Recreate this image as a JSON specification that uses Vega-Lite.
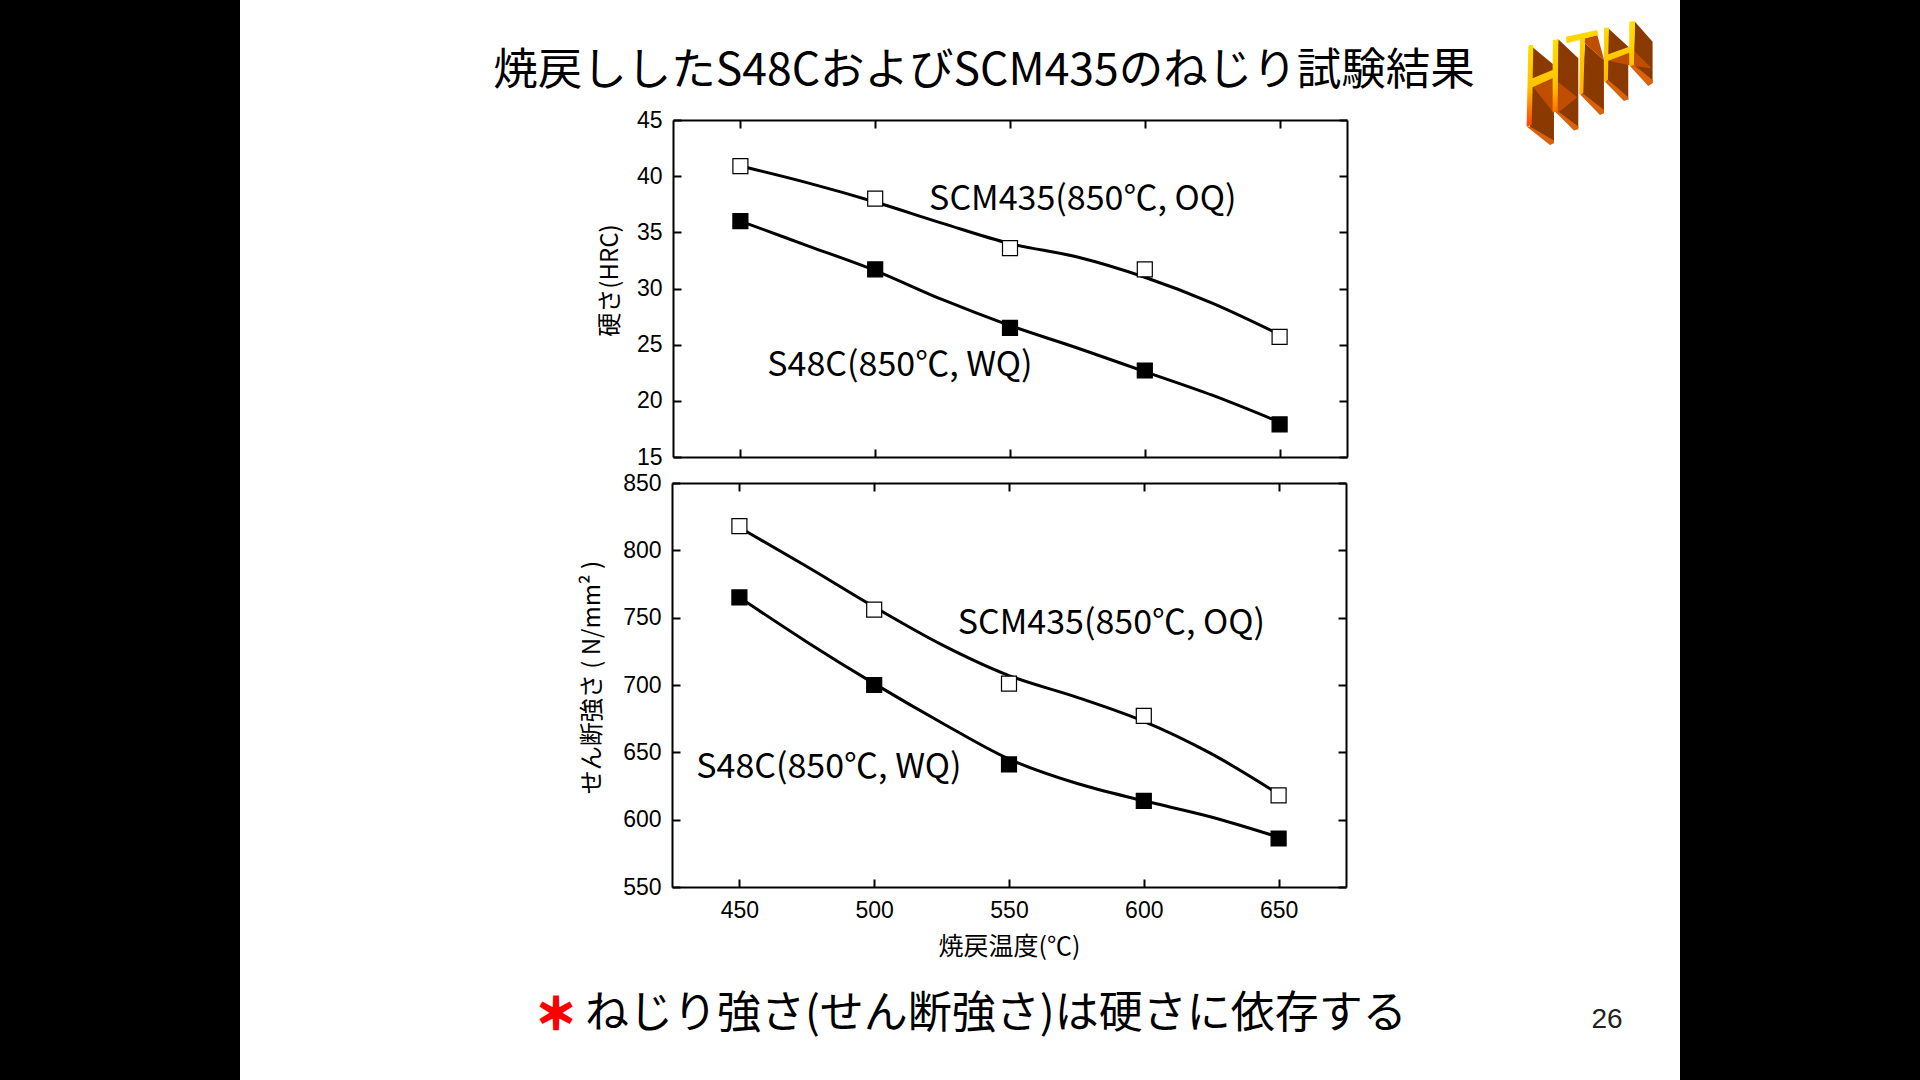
{
  "$schema": "https://vega.github.io/schema/vega-lite/v6.json",
  "width": 1440,
  "height": 1080,
  "autosize": {"type": "none"},
  "padding": {"left": 240, "right": 240, "top": 0, "bottom": 0},
  "background": "black",
  "view": {"fill": "white", "stroke": null},
  "config": {
    "font": "Noto Sans CJK JP",
    "axis": {
      "grid": false,
      "domainColor": "black", "domainWidth": 2,
      "tickColor": "black", "tickWidth": 2, "tickSize": -8,
      "labelColor": "black", "labelFont": "Liberation Sans", "labelFontSize": 23, "labelPadding": 20,
      "titleColor": "black", "titleFont": "Noto Sans CJK JP", "titleFontSize": 24, "titleFontWeight": "normal"
    }
  },
  "datasets": {
    "hardness_curve": [
      {"temp": 450, "hrc": 40.9, "steel": "SCM435"}, {"temp": 475, "hrc": 39.4, "steel": "SCM435"},
      {"temp": 500, "hrc": 37.7, "steel": "SCM435"}, {"temp": 525, "hrc": 35.8, "steel": "SCM435"},
      {"temp": 550, "hrc": 34.0, "steel": "SCM435"}, {"temp": 575, "hrc": 32.8, "steel": "SCM435"},
      {"temp": 600, "hrc": 31.0, "steel": "SCM435"}, {"temp": 625, "hrc": 28.7, "steel": "SCM435"},
      {"temp": 650, "hrc": 25.9, "steel": "SCM435"},
      {"temp": 450, "hrc": 36.0, "steel": "S48C"}, {"temp": 475, "hrc": 33.8, "steel": "S48C"},
      {"temp": 500, "hrc": 31.6, "steel": "S48C"}, {"temp": 525, "hrc": 29.0, "steel": "S48C"},
      {"temp": 550, "hrc": 26.7, "steel": "S48C"}, {"temp": 575, "hrc": 24.7, "steel": "S48C"},
      {"temp": 600, "hrc": 22.6, "steel": "S48C"}, {"temp": 625, "hrc": 20.5, "steel": "S48C"},
      {"temp": 650, "hrc": 18.1, "steel": "S48C"}
    ],
    "hardness_points": [
      {"temp": 450, "hrc": 40.9, "steel": "SCM435"}, {"temp": 500, "hrc": 38.0, "steel": "SCM435"},
      {"temp": 550, "hrc": 33.6, "steel": "SCM435"}, {"temp": 600, "hrc": 31.7, "steel": "SCM435"},
      {"temp": 650, "hrc": 25.7, "steel": "SCM435"},
      {"temp": 450, "hrc": 36.0, "steel": "S48C"}, {"temp": 500, "hrc": 31.7, "steel": "S48C"},
      {"temp": 550, "hrc": 26.5, "steel": "S48C"}, {"temp": 600, "hrc": 22.7, "steel": "S48C"},
      {"temp": 650, "hrc": 17.9, "steel": "S48C"}
    ],
    "shear_curve": [
      {"temp": 450, "shear": 817, "steel": "SCM435"}, {"temp": 475, "shear": 788, "steel": "SCM435"},
      {"temp": 500, "shear": 758, "steel": "SCM435"}, {"temp": 525, "shear": 730, "steel": "SCM435"},
      {"temp": 550, "shear": 707, "steel": "SCM435"}, {"temp": 575, "shear": 691, "steel": "SCM435"},
      {"temp": 600, "shear": 673, "steel": "SCM435"}, {"temp": 625, "shear": 649, "steel": "SCM435"},
      {"temp": 650, "shear": 619, "steel": "SCM435"},
      {"temp": 450, "shear": 765, "steel": "S48C"}, {"temp": 475, "shear": 732, "steel": "S48C"},
      {"temp": 500, "shear": 701, "steel": "S48C"}, {"temp": 525, "shear": 672, "steel": "S48C"},
      {"temp": 550, "shear": 645, "steel": "S48C"}, {"temp": 575, "shear": 627, "steel": "S48C"},
      {"temp": 600, "shear": 614, "steel": "S48C"}, {"temp": 625, "shear": 602, "steel": "S48C"},
      {"temp": 650, "shear": 587, "steel": "S48C"}
    ],
    "shear_points": [
      {"temp": 450, "shear": 818, "steel": "SCM435"}, {"temp": 500, "shear": 756, "steel": "SCM435"},
      {"temp": 550, "shear": 701, "steel": "SCM435"}, {"temp": 600, "shear": 677, "steel": "SCM435"},
      {"temp": 650, "shear": 618, "steel": "SCM435"},
      {"temp": 450, "shear": 765, "steel": "S48C"}, {"temp": 500, "shear": 700, "steel": "S48C"},
      {"temp": 550, "shear": 641, "steel": "S48C"}, {"temp": 600, "shear": 614, "steel": "S48C"},
      {"temp": 650, "shear": 586, "steel": "S48C"}
    ],
    "hardness_labels": [
      {"temp": 520, "hrc": 37.9, "label": "SCM435(850℃,   OQ)"},
      {"temp": 460, "hrc": 23.1, "label": "S48C(850℃,   WQ)"}
    ],
    "shear_labels": [
      {"temp": 531, "shear": 745, "label": "SCM435(850℃,   OQ)"},
      {"temp": 434, "shear": 638.5, "label": "S48C(850℃,   WQ)"}
    ]
  },
  "layer": [
    {
      "data": {"name": "hardness_curve"},
      "mark": {"type": "line", "color": "black", "strokeWidth": 3, "interpolate": "monotone"},
      "encoding": {
        "x": {"field": "temp", "type": "quantitative", "scale": {"domain": [425, 675], "range": [433, 1107]},
          "axis": {"orient": "bottom", "offset": -623, "values": [450, 500, 550, 600, 650], "labels": false, "title": null}},
        "y": {"field": "hrc", "type": "quantitative", "scale": {"domain": [15, 45], "range": [457, 120]},
          "axis": {"orient": "left", "offset": -433, "labelPadding": 19, "values": [15, 20, 25, 30, 35, 40, 45], "title": "硬さ(HRC)", "titlePadding": 14, "titleY": 280}},
        "detail": {"field": "steel"}
      }
    },
    {
      "data": {"name": "hardness_points"},
      "mark": {"type": "point", "shape": "square", "size": 225, "filled": true, "opacity": 1, "stroke": "black", "strokeWidth": 1.2},
      "encoding": {
        "x": {"field": "temp", "type": "quantitative", "scale": {"domain": [425, 675], "range": [433, 1107]},
          "axis": {"orient": "top", "offset": -120, "values": [450, 500, 550, 600, 650], "labels": false, "title": null}},
        "y": {"field": "hrc", "type": "quantitative", "scale": {"domain": [15, 45], "range": [457, 120]},
          "axis": {"orient": "right", "offset": -333, "values": [15, 20, 25, 30, 35, 40, 45], "labels": false, "title": null}},
        "fill": {"field": "steel", "type": "nominal", "scale": {"domain": ["SCM435", "S48C"], "range": ["white", "black"]}, "legend": null}
      }
    },
    {
      "data": {"name": "hardness_labels"},
      "mark": {"type": "text", "align": "left", "baseline": "middle", "fontSize": 34, "color": "black"},
      "encoding": {
        "x": {"field": "temp", "type": "quantitative", "scale": {"domain": [425, 675], "range": [433, 1107]}, "axis": null},
        "y": {"field": "hrc", "type": "quantitative", "scale": {"domain": [15, 45], "range": [457, 120]}, "axis": null},
        "text": {"field": "label"}
      }
    },
    {
      "data": {"name": "shear_curve"},
      "mark": {"type": "line", "color": "black", "strokeWidth": 3, "interpolate": "monotone"},
      "encoding": {
        "x": {"field": "temp", "type": "quantitative", "scale": {"domain": [425, 675], "range": [432, 1106]},
          "axis": {"orient": "bottom", "offset": -193, "values": [450, 500, 550, 600, 650], "title": "焼戻温度(℃)", "titleFontSize": 25, "titlePadding": 12}},
        "y": {"field": "shear", "type": "quantitative", "scale": {"domain": [550, 850], "range": [887, 483]},
          "axis": {"orient": "left", "offset": -432, "labelPadding": 19, "values": [550, 600, 650, 700, 750, 800, 850], "title": "せん断強さ ( N/mm² )", "titlePadding": 18, "titleY": 677}},
        "detail": {"field": "steel"}
      }
    },
    {
      "data": {"name": "shear_points"},
      "mark": {"type": "point", "shape": "square", "size": 225, "filled": true, "opacity": 1, "stroke": "black", "strokeWidth": 1.2},
      "encoding": {
        "x": {"field": "temp", "type": "quantitative", "scale": {"domain": [425, 675], "range": [432, 1106]},
          "axis": {"orient": "top", "offset": -483, "values": [450, 500, 550, 600, 650], "labels": false, "title": null}},
        "y": {"field": "shear", "type": "quantitative", "scale": {"domain": [550, 850], "range": [887, 483]},
          "axis": {"orient": "right", "offset": -334, "values": [550, 600, 650, 700, 750, 800, 850], "labels": false, "title": null}},
        "fill": {"field": "steel", "type": "nominal", "scale": {"domain": ["SCM435", "S48C"], "range": ["white", "black"]}, "legend": null}
      }
    },
    {
      "data": {"name": "shear_labels"},
      "mark": {"type": "text", "align": "left", "baseline": "middle", "fontSize": 34, "color": "black"},
      "encoding": {
        "x": {"field": "temp", "type": "quantitative", "scale": {"domain": [425, 675], "range": [432, 1106]}, "axis": null},
        "y": {"field": "shear", "type": "quantitative", "scale": {"domain": [550, 850], "range": [887, 483]}, "axis": null},
        "text": {"field": "label"}
      }
    },
    {
      "data": {"values": [{"label": "焼戻ししたS48CおよびSCM435のねじり試験結果"}]},
      "mark": {"type": "text", "x": 744, "y": 72, "align": "center", "baseline": "middle", "fontSize": 44.5, "color": "black"},
      "encoding": {"text": {"field": "label"}}
    },
    {
      "data": {"values": [{"label": "ねじり強さ(せん断強さ)は硬さに依存する"}]},
      "mark": {"type": "text", "x": 345, "y": 1015, "align": "left", "baseline": "middle", "fontSize": 44, "color": "black"},
      "encoding": {"text": {"field": "label"}}
    },
    {
      "data": {"values": [{"label": "＊"}]},
      "mark": {"type": "text", "x": 316, "y": 1016, "align": "center", "baseline": "middle", "fontSize": 42, "fontWeight": "bold", "color": "#ff0000", "stroke": "#ff0000", "strokeWidth": 2.5},
      "encoding": {"text": {"field": "label"}}
    },
    {
      "data": {"values": [{"label": "26"}]},
      "mark": {"type": "text", "x": 1367, "y": 1020, "align": "center", "baseline": "middle", "font": "Liberation Sans", "fontSize": 28, "color": "#222222"},
      "encoding": {"text": {"field": "label"}}
    },
    {
      "data": {"values": [{"part": "logo side"}]},
      "mark": {"type": "point", "x": 1240, "y": 0, "size": 0.444, "filled": true, "opacity": 1, "color": "#8a3a00",
        "shape": "M150 135L222 195L222 425L150 385ZM235 118L295 175L295 385L225 335ZM315 130L372 180L372 340L305 285ZM385 85L445 140L445 300L380 245ZM465 65L518 125L518 250L460 200Z"},
      "encoding": {}
    },
    {
      "data": {"values": [{"part": "logo underside"}]},
      "mark": {"type": "point", "x": 1240, "y": 0, "size": 0.444, "filled": true, "opacity": 1, "color": "#c04e00",
        "shape": "M160 262L220 235L292 292L235 338L218 335ZM262 130L352 105L372 178L372 180L315 130L300 120ZM385 165L450 140L515 205L460 198L448 196L385 182Z"},
      "encoding": {}
    },
    {
      "data": {"values": [{"part": "logo bottom edge"}]},
      "mark": {"type": "point", "x": 1240, "y": 0, "size": 0.444, "filled": true, "opacity": 1, "color": "#d9620a",
        "shape": "M140 380L150 380L222 422L222 430L210 435ZM225 335L235 335L295 380L295 388L282 392ZM300 283L312 283L372 330L372 340L360 345ZM375 245L385 240L445 292L445 298L432 303ZM450 198L462 195L518 240L518 250L505 258Z"},
      "encoding": {}
    },
    {
      "data": {"values": [{"part": "logo H front"}]},
      "mark": {"type": "point", "x": 1240, "y": 0, "size": 0.444, "filled": true, "opacity": 1,
        "color": {"gradient": "linear", "x1": 0, "y1": 0, "x2": 0, "y2": 1, "stops": [{"offset": 0, "color": "#ffe000"}, {"offset": 0.55, "color": "#ffc000"}, {"offset": 1, "color": "#ff4000"}]},
        "shape": "M145 137L160 135L158 235L218 210L219 120L235 118L233 335L218 338L218 235L158 262L155 375L140 380Z"},
      "encoding": {}
    },
    {
      "data": {"values": [{"part": "logo TH front"}]},
      "mark": {"type": "point", "x": 1240, "y": 0, "size": 0.444, "filled": true, "opacity": 1,
        "color": {"gradient": "linear", "x1": 0, "y1": 0, "x2": 0, "y2": 1, "stops": [{"offset": 0, "color": "#ffe000"}, {"offset": 1, "color": "#ffb000"}]},
        "shape": "M258 110L352 90L355 105L315 115L310 280L298 283L300 118L260 130ZM372 85L387 82L385 163L448 140L448 65L465 63L462 195L448 198L448 158L385 182L384 240L372 245Z"},
      "encoding": {}
    }
  ],
  "resolve": {
    "scale": {"x": "independent", "y": "independent"},
    "axis": {"x": "independent", "y": "independent"}
  }
}
